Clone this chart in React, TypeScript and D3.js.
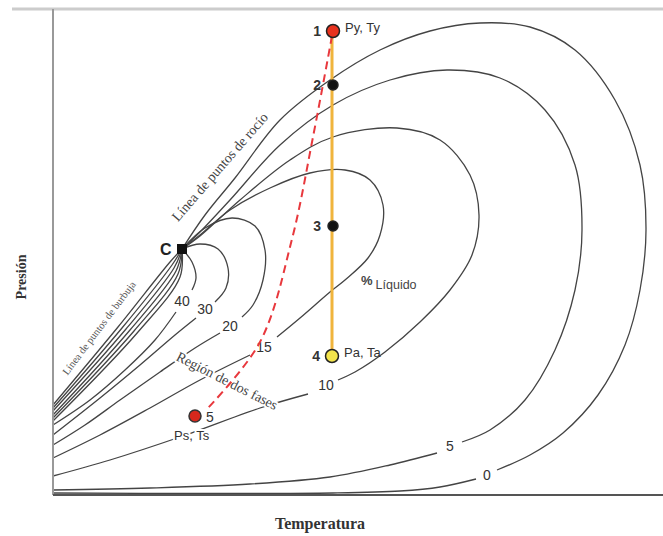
import React from "react";
import * as d3 from "d3";

const W = 663;
const H = 536;

// chart units: temperature 0..610, pressure 0..486
const critical = [129, 246];

// quality lines (% liquid), upper branch starts at the critical point
const q0Upper = [[129,246],[152,280],[182,317],[227,375],[277,415],[327,445],[377,464],[427,472],[477,468],[522,445],[562,395],[587,330],[593,265],[587,205],[572,150],[545,100],[510,62],[477,40],[444,25]];
const q0Lower = [[423,16],[387,8],[347,4],[280,2],[150,1.5],[0,2]];
const q5Upper = [[129,246],[147,263],[177,295],[227,350],[280,390],[337,415],[394,425],[447,417],[492,385],[522,330],[529,265],[522,205],[502,145],[472,95],[437,65],[409,53]];
const q5Lower = [[384,42],[337,30],[277,18],[197,11],[97,7],[0,5]];
const q10Upper = [[129,246],[147,259],[187,295],[237,335],[280,358],[344,367],[387,355],[417,320],[426,280],[419,240],[397,205],[367,173],[332,143],[302,123],[285,115]];
const q10Lower = [[255,101],[207,87],[127,58],[57,35],[0,19]];
const q15Upper = [[129,246],[147,260],[177,285],[217,307],[257,322],[292,325],[317,315],[330,290],[327,260],[315,237],[292,215],[277,203],[247,177],[224,158]];
const q15Lower = [[197,140],[147,115],[97,87],[47,60],[0,37]];
const q20Upper = [[129,246],[152,267],[179,277],[202,269],[212,245],[210,215],[200,190],[189,178]];
const q20Lower = [[167,162],[142,147],[107,123],[67,95],[32,70],[0,50]];
const q30Upper = [[129,246],[147,251],[165,246],[175,227],[173,207],[162,193]];
const q30Lower = [[143,177],[122,160],[87,130],[47,97],[0,60]];
const q40Upper = [[129,246],[139,233],[143,217],[139,205]];
const q40Lower = [[123,183],[102,155],[72,125],[37,95],[0,70]];

// bubble side lines (high liquid %)
const bubbleLines = [
  [[129,246],[117,233],[65,168],[0,90]],
  [[129,246],[119,230],[69,167],[0,87]],
  [[129,246],[121,227],[73,166],[0,84]],
  [[129,246],[123,224],[77,165],[0,80]],
  [[129,246],[125,221],[81,164],[0,77]],
  [[129,246],[127,218],[85,163],[0,74]],
];

const qualityLabels = [
  { text: "40", t: 129, p: 194 },
  { text: "30", t: 152, p: 186 },
  { text: "20", t: 177, p: 169 },
  { text: "15", t: 211, p: 148 },
  { text: "10", t: 273, p: 110 },
  { text: "5", t: 397, p: 49 },
  { text: "0", t: 434, p: 20 },
];

// production path
const pathTemp = 279;
const pathPressures = [464, 139];
const separatorPath = [[279,459],[260,358],[239,256],[207,153],[154,86]];
const states = [
  { id: "1", t: 280, p: 464, fill: "#e8321e", r: 6.5, name: "Py, Ty" },
  { id: "2", t: 280, p: 410, fill: "#111", r: 5, name: "" },
  { id: "3", t: 280, p: 269, fill: "#111", r: 5, name: "" },
  { id: "4", t: 279, p: 139, fill: "#f3e44c", r: 6.5, name: "Pa, Ta" },
];
const separator = { id: "5", t: 142, p: 79, name: "Ps, Ts" };

const x = d3.scaleLinear().domain([0, 610]).range([53, 663]);
const y = d3.scaleLinear().domain([0, 486]).range([495, 9]);
const line = d3.line<number[]>().x(d => x(d[0])).y(d => y(d[1])).curve(d3.curveCatmullRom.alpha(0.5));

const curves = [q0Upper, q0Lower, q5Upper, q5Lower, q10Upper, q10Lower, q15Upper, q15Lower, q20Upper, q20Lower, q30Upper, q30Lower, q40Upper, q40Lower, ...bubbleLines];

const halo = { stroke: "#fff", strokeWidth: 4, paintOrder: "stroke" as const, strokeLinejoin: "round" as const };

export default function App() {
  return (
    <svg width={W} height={H} style={{ position: "absolute", left: 0, top: 0, background: "#fff" }}>
      <line x1={12} x2={663} y1={9} y2={9} stroke="#ccc" strokeWidth={3} />
      {curves.map((c, i) => (
        <path key={i} d={line(c) || ""} fill="none" stroke="#444" strokeWidth={1.3} />
      ))}
      <line x1={x(0)} x2={x(0)} y1={9} y2={y(0)} stroke="#999" strokeWidth={2} />
      <line x1={x(0)} x2={663} y1={y(0)} y2={y(0)} stroke="#555" strokeWidth={2} />

      {qualityLabels.map(l => (
        <text key={l.text} x={x(l.t)} y={y(l.p)} textAnchor="middle" dominantBaseline="central"
          fontFamily="Liberation Sans, Arial, sans-serif" fontSize={14} fill="#333" {...halo}>{l.text}</text>
      ))}

      <text transform={`translate(${x(174)},${y(114)}) rotate(27)`} textAnchor="middle" dominantBaseline="central"
        fontFamily="Liberation Serif, serif" fontSize={14} fill="#444" {...halo}>Región de dos fases</text>
      <text transform={`translate(${x(167)},${y(328)}) rotate(-49)`} textAnchor="middle" dominantBaseline="central"
        fontFamily="Liberation Serif, serif" fontSize={14} fill="#444">Línea de puntos de rocío</text>
      <text transform={`translate(${x(46)},${y(167)}) rotate(-53)`} textAnchor="middle" dominantBaseline="central"
        fontFamily="Liberation Serif, serif" fontSize={10.5} fill="#555">Línea de puntos de burbuja</text>
      <text x={x(308)} y={y(210)} fontFamily="Liberation Sans, Arial, sans-serif" fill="#444">
        <tspan fontSize={13} fontWeight="bold">%</tspan>
        <tspan fontSize={12.5} dx={3} dy={4}>Líquido</tspan>
      </text>

      <line x1={x(pathTemp)} x2={x(pathTemp)} y1={y(pathPressures[0])} y2={y(pathPressures[1])} stroke="#f0b43c" strokeWidth={3} />
      <path d={line(separatorPath) || ""} fill="none" stroke="#e8383d" strokeWidth={2} strokeDasharray="8,5" />

      <rect x={x(critical[0]) - 5} y={y(critical[1]) - 5} width={10} height={10} fill="#111" />
      <text x={x(critical[0]) - 22} y={y(critical[1]) + 6} fontFamily="Liberation Sans, Arial, sans-serif" fontWeight="bold" fontSize={16} fill="#222">C</text>

      {states.map(s => (
        <g key={s.id}>
          <circle cx={x(s.t)} cy={y(s.p)} r={s.r} fill={s.fill} stroke="#222" strokeWidth={1.5} />
          <text x={x(s.t) - 12} y={y(s.p) + 5} textAnchor="end" fontFamily="Liberation Sans, Arial, sans-serif" fontWeight="bold" fontSize={14} fill="#333">{s.id}</text>
          {s.name && <text x={x(s.t) + 12} y={y(s.p) + 1} fontFamily="Liberation Sans, Arial, sans-serif" fontSize={13} fill="#333">{s.name}</text>}
        </g>
      ))}
      <circle cx={x(separator.t)} cy={y(separator.p)} r={6} fill="#d8281c" stroke="#333" strokeWidth={1.5} />
      <text x={x(separator.t) + 11} y={y(separator.p) + 6} fontFamily="Liberation Sans, Arial, sans-serif" fontSize={14} fill="#333">{separator.id}</text>
      <text x={x(separator.t) - 21} y={y(separator.p) + 24} fontFamily="Liberation Sans, Arial, sans-serif" fontSize={13} fill="#333" {...halo}>{separator.name}</text>

      <text transform={`translate(26,277) rotate(-90)`} textAnchor="middle" fontFamily="Liberation Serif, serif" fontWeight="bold" fontSize={14} fill="#333">Presión</text>
      <text x={320} y={529} textAnchor="middle" fontFamily="Liberation Serif, serif" fontWeight="bold" fontSize={16} fill="#333">Temperatura</text>
    </svg>
  );
}
